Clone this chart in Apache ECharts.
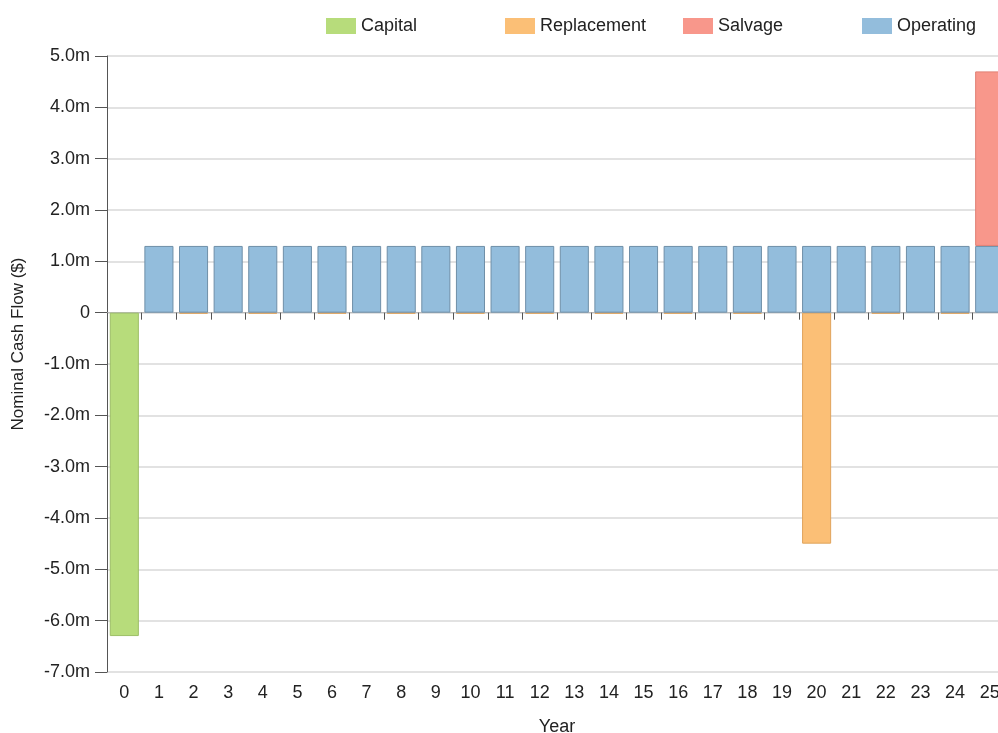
<!DOCTYPE html>
<html>
<head>
<meta charset="utf-8">
<script src="https://cdn.jsdelivr.net/npm/echarts@6/dist/echarts.min.js"></script>
<style>
	html, body { margin: 0; padding: 0; background: #fff; overflow: hidden; }
	#cashflow { width: 998px; height: 733px; }
</style>
</head>
<body>
<div id="cashflow"></div>
<script>
/**
 * 数据
 * **/
var years = ['0', '1', '2', '3', '4', '5', '6', '7', '8', '9', '10', '11', '12', '13', '14', '15', '16', '17', '18', '19', '20', '21', '22', '23', '24', '25'];
var capital = [-6300000, null, null, null, null, null, null, null, null, null, null, null, null, null, null, null, null, null, null, null, null, null, null, null, null, null];
var replacement = [null, null, -20000, null, -20000, null, -20000, null, -20000, null, -20000, null, -20000, null, -20000, null, -20000, null, -20000, null, -4500000, null, -20000, null, -20000, null];
var operating = [null, 1300000, 1300000, 1300000, 1300000, 1300000, 1300000, 1300000, 1300000, 1300000, 1300000, 1300000, 1300000, 1300000, 1300000, 1300000, 1300000, 1300000, 1300000, 1300000, 1300000, 1300000, 1300000, 1300000, 1300000, 1300000];
var salvage = [null, null, null, null, null, null, null, null, null, null, null, null, null, null, null, null, null, null, null, null, null, null, null, null, null, 3400000];
var yTicks = {min: -7000000, max: 5000000, step: 1000000};

var font = 'Liberation Sans, Arial, sans-serif';

function makeLegend(name, left) {
	return {
		data: [name],
		top: 12,
		left: left,
		icon: 'rect',
		itemWidth: 30,
		itemHeight: 16,
		itemStyle: {
			borderWidth: 0
		},
		textStyle: {
			fontFamily: font,
			fontSize: 18,
			color: '#222'
		}
	};
}

function makeBar(name, data, color, border) {
	return {
		name: name,
		type: 'bar',
		stack: 'flow',
		xAxisIndex: 0,
		barCategoryGap: '16%',
		itemStyle: {
			color: color,
			borderColor: border,
			borderWidth: 1
		},
		data: data
	};
}

var myChart = echarts.init(document.getElementById('cashflow'));
var option = {
	animation: false,
	legend: [
		makeLegend('Capital', 321),
		makeLegend('Replacement', 500),
		makeLegend('Salvage', 678),
		makeLegend('Operating', 857)
	],
	grid: {
		left: 107,
		right: -9,
		top: 56,
		bottom: 61,
		outerBoundsMode: 'none',
		containLabel: false
	},
	xAxis: [{
		type: 'category',
		position: 'bottom',
		data: years,
		name: 'Year',
		nameLocation: 'middle',
		nameGap: 46,
		nameTextStyle: {
			fontFamily: font,
			fontSize: 18,
			color: '#222'
		},
		axisLine: {
			show: false,
			onZero: false
		},
		axisTick: {
			show: false
		},
		axisLabel: {
			interval: 0,
			margin: 12,
			fontFamily: font,
			fontSize: 18,
			color: '#222'
		}
	}, {
		type: 'category',
		position: 'top',
		data: years,
		axisLine: {
			show: true,
			onZero: true,
			lineStyle: {
				color: '#bbb'
			}
		},
		axisTick: {
			show: true,
			inside: true,
			length: 7,
			lineStyle: {
				color: '#555'
			}
		},
		axisLabel: {
			show: false
		}
	}],
	yAxis: {
		type: 'value',
		min: yTicks.min,
		max: yTicks.max,
		interval: yTicks.step,
		name: 'Nominal Cash Flow ($)',
		nameLocation: 'middle',
		nameGap: 80,
		nameTextStyle: {
			fontFamily: font,
			fontSize: 17,
			color: '#222',
			padding: [0, 0, 0, 40]
		},
		axisLine: {
			show: true,
			lineStyle: {
				color: '#555'
			}
		},
		axisTick: {
			show: true,
			length: 12,
			lineStyle: {
				color: '#555'
			}
		},
		splitLine: {
			lineStyle: {
				color: '#d8d8d8',
				width: 1.5
			}
		},
		axisLabel: {
			margin: 17,
			fontFamily: font,
			fontSize: 18,
			color: '#222',
			formatter: function(v) {
				return v === 0 ? '0' : (v / 1000000).toFixed(1) + 'm';
			}
		}
	},
	series: [
		makeBar('Capital', capital, '#b7dc7b', '#9cbf66'),
		makeBar('Replacement', replacement, '#fbbf76', '#e0a45d'),
		makeBar('Operating', operating, '#93bddc', '#6f8fa8'),
		makeBar('Salvage', salvage, '#f8978b', '#e07f74')
	]
};
myChart.setOption(option);
</script>
</body>
</html>
